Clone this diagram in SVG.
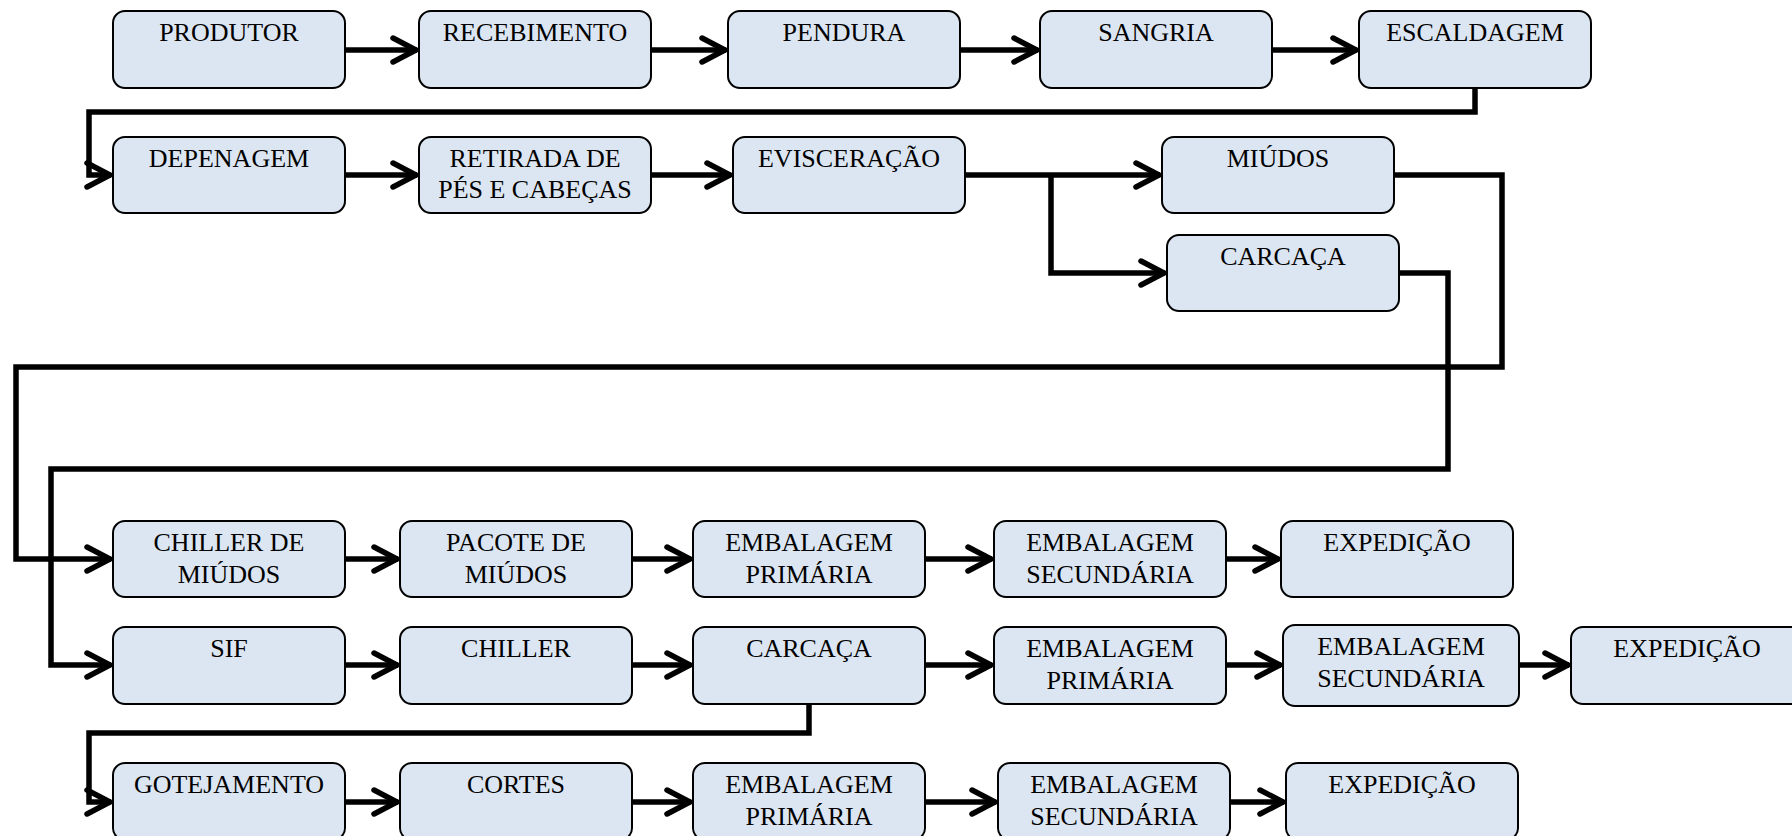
<svg xmlns="http://www.w3.org/2000/svg" width="1792" height="836" viewBox="0 0 1792 836">
<style>
.box{fill:#dce6f2;stroke:#000;stroke-width:2}
.t{font-family:"Liberation Serif","Times New Roman",serif;font-size:26px;fill:#000;text-anchor:middle}
.c{fill:none;stroke:#000;stroke-width:5.5;stroke-linejoin:miter}
.a{marker-end:url(#arr)}
</style>
<defs>
<marker id="arr" markerUnits="userSpaceOnUse" viewBox="-32 -20 36 40" markerWidth="36" markerHeight="40" refX="0" refY="0" orient="auto">
<path d="M-24,-12 L-1,0 L-24,12" fill="none" stroke="#000" stroke-width="5.5" stroke-linecap="round" stroke-linejoin="miter"/>
</marker>
</defs>
<rect width="1792" height="836" fill="#fff"/>
<g id="connectors">
<path class="c a" d="M345,50H417"/>
<path class="c a" d="M651,50H726"/>
<path class="c a" d="M960,50H1038"/>
<path class="c a" d="M1272,50H1357"/>
<path class="c a" d="M1475,88V112H89V175H111"/>
<path class="c a" d="M345,175H417"/>
<path class="c a" d="M651,175H731"/>
<path class="c a" d="M965,175H1160"/>
<path class="c a" d="M1051,175V273H1165"/>
<path class="c a" d="M1394,175H1502V367H16V559H111"/>
<path class="c a" d="M1399,273H1448V469H51V665H111"/>
<path class="c a" d="M345,559H398"/>
<path class="c a" d="M632,559H691"/>
<path class="c a" d="M925,559H992"/>
<path class="c a" d="M1226,559H1279"/>
<path class="c a" d="M345,665H398"/>
<path class="c a" d="M632,665H691"/>
<path class="c a" d="M925,665H992"/>
<path class="c a" d="M1226,665H1281"/>
<path class="c a" d="M1519,665H1569"/>
<path class="c a" d="M809,704V733H89V802H111"/>
<path class="c a" d="M345,802H398"/>
<path class="c a" d="M632,802H691"/>
<path class="c a" d="M925,802H996"/>
<path class="c a" d="M1230,802H1284"/>
</g>
<g id="produtor"><rect class="box" x="113" y="11" width="232" height="77" rx="12"/><text class="t" x="229" y="41">PRODUTOR</text></g>
<g id="recebimento"><rect class="box" x="419" y="11" width="232" height="77" rx="12"/><text class="t" x="535" y="41">RECEBIMENTO</text></g>
<g id="pendura"><rect class="box" x="728" y="11" width="232" height="77" rx="12"/><text class="t" x="844" y="41">PENDURA</text></g>
<g id="sangria"><rect class="box" x="1040" y="11" width="232" height="77" rx="12"/><text class="t" x="1156" y="41">SANGRIA</text></g>
<g id="escaldagem"><rect class="box" x="1359" y="11" width="232" height="77" rx="12"/><text class="t" x="1475" y="41">ESCALDAGEM</text></g>
<g id="depenagem"><rect class="box" x="113" y="137" width="232" height="76" rx="12"/><text class="t" x="229" y="167">DEPENAGEM</text></g>
<g id="retirada"><rect class="box" x="419" y="137" width="232" height="76" rx="12"/><text class="t" x="535" y="167">RETIRADA DE</text><text class="t" x="535" y="198">PÉS E CABEÇAS</text></g>
<g id="evisceracao"><rect class="box" x="733" y="137" width="232" height="76" rx="12"/><text class="t" x="849" y="167">EVISCERAÇÃO</text></g>
<g id="miudos"><rect class="box" x="1162" y="137" width="232" height="76" rx="12"/><text class="t" x="1278" y="167">MIÚDOS</text></g>
<g id="carcaca1"><rect class="box" x="1167" y="235" width="232" height="76" rx="12"/><text class="t" x="1283" y="265">CARCAÇA</text></g>
<g id="chiller-miudos"><rect class="box" x="113" y="521" width="232" height="76" rx="12"/><text class="t" x="229" y="551">CHILLER DE</text><text class="t" x="229" y="583">MIÚDOS</text></g>
<g id="pacote"><rect class="box" x="400" y="521" width="232" height="76" rx="12"/><text class="t" x="516" y="551">PACOTE DE</text><text class="t" x="516" y="583">MIÚDOS</text></g>
<g id="emb-prim-1"><rect class="box" x="693" y="521" width="232" height="76" rx="12"/><text class="t" x="809" y="551">EMBALAGEM</text><text class="t" x="809" y="583">PRIMÁRIA</text></g>
<g id="emb-sec-1"><rect class="box" x="994" y="521" width="232" height="76" rx="12"/><text class="t" x="1110" y="551">EMBALAGEM</text><text class="t" x="1110" y="583">SECUNDÁRIA</text></g>
<g id="expedicao-1"><rect class="box" x="1281" y="521" width="232" height="76" rx="12"/><text class="t" x="1397" y="551">EXPEDIÇÃO</text></g>
<g id="sif"><rect class="box" x="113" y="627" width="232" height="77" rx="12"/><text class="t" x="229" y="657">SIF</text></g>
<g id="chiller"><rect class="box" x="400" y="627" width="232" height="77" rx="12"/><text class="t" x="516" y="657">CHILLER</text></g>
<g id="carcaca2"><rect class="box" x="693" y="627" width="232" height="77" rx="12"/><text class="t" x="809" y="657">CARCAÇA</text></g>
<g id="emb-prim-2"><rect class="box" x="994" y="627" width="232" height="77" rx="12"/><text class="t" x="1110" y="657">EMBALAGEM</text><text class="t" x="1110" y="689">PRIMÁRIA</text></g>
<g id="emb-sec-2"><rect class="box" x="1283" y="625" width="236" height="81" rx="12"/><text class="t" x="1401" y="655">EMBALAGEM</text><text class="t" x="1401" y="687">SECUNDÁRIA</text></g>
<g id="expedicao-2"><rect class="box" x="1571" y="627" width="232" height="77" rx="12"/><text class="t" x="1687" y="657">EXPEDIÇÃO</text></g>
<g id="gotejamento"><rect class="box" x="113" y="763" width="232" height="77" rx="12"/><text class="t" x="229" y="793">GOTEJAMENTO</text></g>
<g id="cortes"><rect class="box" x="400" y="763" width="232" height="77" rx="12"/><text class="t" x="516" y="793">CORTES</text></g>
<g id="emb-prim-3"><rect class="box" x="693" y="763" width="232" height="77" rx="12"/><text class="t" x="809" y="793">EMBALAGEM</text><text class="t" x="809" y="825">PRIMÁRIA</text></g>
<g id="emb-sec-3"><rect class="box" x="998" y="763" width="232" height="77" rx="12"/><text class="t" x="1114" y="793">EMBALAGEM</text><text class="t" x="1114" y="825">SECUNDÁRIA</text></g>
<g id="expedicao-3"><rect class="box" x="1286" y="763" width="232" height="77" rx="12"/><text class="t" x="1402" y="793">EXPEDIÇÃO</text></g>
</svg>
